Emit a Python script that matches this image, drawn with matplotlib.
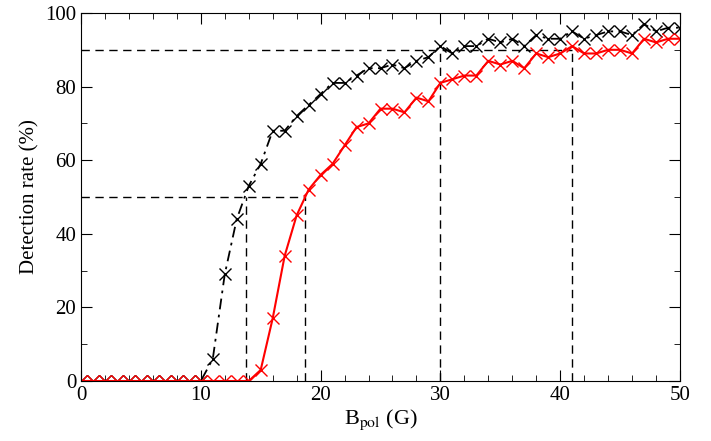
import matplotlib
matplotlib.use("Agg")
import matplotlib.pyplot as plt

x = list(range(51))
black = [0]*11 + [6, 29, 44, 53, 59, 68, 68, 72, 75, 78, 81, 81, 83, 85, 85, 86, 85, 87, 88, 91,
                  89, 91, 91, 93, 92, 93, 91, 94, 93, 93, 95, 93, 94, 95, 95, 94, 97, 95, 96, 96]
red = [0]*15 + [3, 17, 34, 45, 52, 56, 59, 64, 69, 70, 74, 74, 73, 77, 76, 81, 82, 83, 83, 87,
                86, 87, 85, 89, 88, 89, 91, 89, 89, 90, 90, 89, 93, 92, 93, 93]
b50, r50, b90, r90 = 13.8, 18.7, 30, 41

plt.rcParams['font.family'] = ['Liberation Serif', 'DejaVu Serif']
plt.rcParams['mathtext.fontset'] = 'stix'
fig = plt.figure(figsize=(7.11, 4.41), dpi=100)
ax = fig.add_axes([81/711, 60/441, 599/711, 368/441])
dk = dict(color='black', lw=1, dashes=(6, 4))
ax.plot([0, r50], [50, 50], **dk)
ax.plot([b50, b50], [0, 50], **dk)
ax.plot([r50, r50], [0, 50], **dk)
ax.plot([0, r90], [90, 90], **dk)
ax.plot([b90, b90], [0, 90], **dk)
ax.plot([r90, r90], [0, 90], **dk)
ax.plot(x, black, color='black', lw=1.3, dashes=(6, 3, 1.5, 3), marker='x', ms=9, mew=1)
ax.plot(x, red, color='red', lw=1.5, marker='x', ms=9, mew=1)
ax.set_xlim(0, 50)
ax.set_ylim(0, 100)
ax.set_xticks(range(0, 51, 10))
ax.set_xticks(range(0, 51, 2), minor=True)
ax.set_yticks(range(0, 101, 20))
ax.set_yticks(range(0, 101, 10), minor=True)
ax.tick_params(which='both', direction='in', top=True, right=True, labelsize=15)
ax.tick_params(which='major', length=8)
ax.tick_params(which='minor', length=4)
ax.set_xlabel(r'B$_{\rm pol}$ (G)', fontsize=16, labelpad=2)
ax.set_ylabel('Detection rate (%)', fontsize=15)
fig.savefig('out.png', dpi=100)
